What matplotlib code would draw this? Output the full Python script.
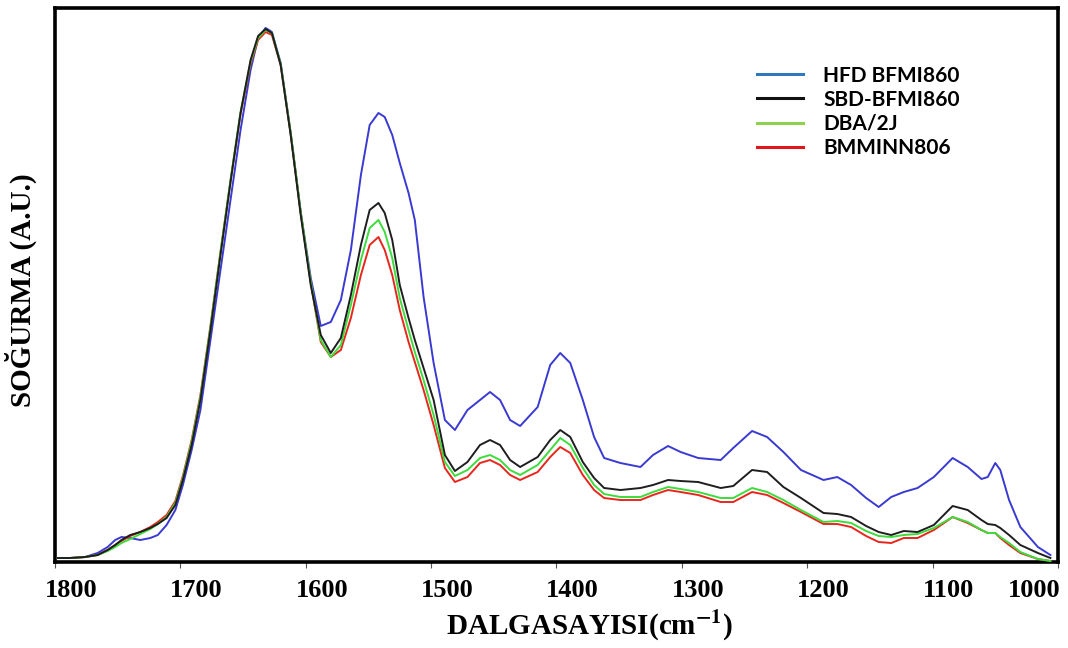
import matplotlib

matplotlib.use("Agg")

import matplotlib.pyplot as plt
import matplotlib.transforms as mtransforms
from matplotlib.lines import Line2D


# wavenumber grid (cm-1) shared by all spectra
wavenumber = [
    1798, 1788, 1776, 1766, 1758, 1752, 1747, 1740, 1732, 1724,
    1718, 1711, 1704, 1698, 1691, 1684, 1676, 1668, 1660, 1652,
    1644, 1638, 1632, 1627, 1620, 1612, 1604, 1596, 1588, 1580,
    1572, 1564, 1556, 1549, 1542, 1537, 1531, 1525, 1518, 1513,
    1506, 1498, 1489, 1481, 1471, 1461, 1453, 1445, 1437, 1429,
    1415, 1405, 1397, 1389, 1379, 1370, 1362, 1349, 1333, 1323,
    1311, 1301, 1287, 1269, 1259, 1244, 1232, 1219, 1205, 1187,
    1176, 1165, 1153, 1143, 1133, 1123, 1112, 1099, 1084, 1072,
    1061, 1056, 1050, 1046, 1039, 1030, 1016, 1006,
]

hfd_bfmi860 = [
    0.008, 0.008, 0.010, 0.018, 0.030, 0.044, 0.050, 0.048, 0.044, 0.048,
    0.054, 0.074, 0.104, 0.154, 0.224, 0.304, 0.444, 0.584, 0.724, 0.864,
    0.984, 1.048, 1.068, 1.060, 0.998, 0.858, 0.700, 0.568, 0.472, 0.480,
    0.524, 0.624, 0.774, 0.874, 0.898, 0.890, 0.854, 0.798, 0.738, 0.684,
    0.530, 0.398, 0.284, 0.264, 0.304, 0.324, 0.340, 0.324, 0.284, 0.272,
    0.310, 0.394, 0.418, 0.398, 0.324, 0.250, 0.208, 0.198, 0.190, 0.214,
    0.232, 0.220, 0.208, 0.204, 0.228, 0.262, 0.250, 0.220, 0.184, 0.164,
    0.170, 0.154, 0.128, 0.110, 0.130, 0.140, 0.148, 0.170, 0.208, 0.190,
    0.166, 0.170, 0.198, 0.184, 0.124, 0.070, 0.030, 0.014,
]

sbd_bfmi860 = [
    0.008, 0.008, 0.010, 0.014, 0.024, 0.034, 0.044, 0.054, 0.060, 0.068,
    0.076, 0.088, 0.114, 0.164, 0.234, 0.324, 0.464, 0.614, 0.760, 0.898,
    1.004, 1.052, 1.066, 1.058, 0.994, 0.854, 0.694, 0.554, 0.454, 0.418,
    0.448, 0.534, 0.634, 0.704, 0.718, 0.698, 0.644, 0.554, 0.488, 0.444,
    0.388, 0.324, 0.214, 0.182, 0.200, 0.234, 0.244, 0.234, 0.204, 0.190,
    0.210, 0.244, 0.264, 0.250, 0.200, 0.168, 0.148, 0.144, 0.148, 0.154,
    0.164, 0.162, 0.160, 0.148, 0.152, 0.184, 0.180, 0.150, 0.128, 0.098,
    0.096, 0.090, 0.072, 0.060, 0.054, 0.062, 0.060, 0.074, 0.112, 0.104,
    0.084, 0.076, 0.074, 0.068, 0.054, 0.034, 0.018, 0.008,
]

dba_2j = [
    0.008, 0.008, 0.010, 0.014, 0.022, 0.030, 0.038, 0.046, 0.056, 0.066,
    0.076, 0.090, 0.118, 0.168, 0.240, 0.330, 0.470, 0.620, 0.764, 0.900,
    1.000, 1.048, 1.064, 1.058, 0.996, 0.858, 0.700, 0.560, 0.444, 0.410,
    0.434, 0.514, 0.604, 0.668, 0.684, 0.660, 0.608, 0.528, 0.464, 0.420,
    0.364, 0.294, 0.200, 0.172, 0.184, 0.208, 0.214, 0.204, 0.184, 0.174,
    0.194, 0.224, 0.248, 0.234, 0.188, 0.154, 0.136, 0.130, 0.130, 0.140,
    0.150, 0.146, 0.140, 0.128, 0.128, 0.148, 0.140, 0.124, 0.104, 0.080,
    0.082, 0.078, 0.062, 0.052, 0.050, 0.054, 0.056, 0.068, 0.090, 0.080,
    0.064, 0.058, 0.058, 0.050, 0.038, 0.020, 0.006, 0.002,
]

bmminn806 = [
    0.008, 0.008, 0.010, 0.014, 0.024, 0.034, 0.042, 0.052, 0.060, 0.070,
    0.080, 0.094, 0.122, 0.172, 0.244, 0.334, 0.472, 0.620, 0.762, 0.896,
    0.996, 1.044, 1.060, 1.054, 0.994, 0.856, 0.698, 0.558, 0.440, 0.410,
    0.424, 0.488, 0.574, 0.634, 0.650, 0.624, 0.574, 0.504, 0.440, 0.400,
    0.344, 0.274, 0.188, 0.160, 0.170, 0.198, 0.204, 0.194, 0.174, 0.164,
    0.180, 0.210, 0.230, 0.218, 0.174, 0.144, 0.128, 0.124, 0.124, 0.134,
    0.144, 0.140, 0.134, 0.120, 0.120, 0.140, 0.134, 0.118, 0.100, 0.076,
    0.076, 0.070, 0.052, 0.040, 0.038, 0.048, 0.048, 0.064, 0.090, 0.078,
    0.064, 0.058, 0.058, 0.048, 0.034, 0.018, 0.006, 0.002,
]

series_names = ["HFD BFMI860", "SBD-BFMI860", "DBA/2J", "BMMINN806"]
tick_values = [1800, 1700, 1600, 1500, 1400, 1300, 1200, 1100, 1000]

line_colors = ["#3a3ad2", "#1e1e1e", "#3ddc3d", "#e8261e"]
legend_colors = ["#2f78bd", "#111111", "#8fd14f", "#e0161b"]

plt.rcParams.update({"font.family": "Liberation Serif", "mathtext.fontset": "stix"})

fig = plt.figure(figsize=(10.68, 6.48), dpi=100)
ax = fig.add_axes([0.0515, 0.1327, 0.9391, 0.855])

# blue first so the others sit on top at the amide I maximum
ax.plot(wavenumber, hfd_bfmi860, color=line_colors[0], lw=1.4, zorder=2)
ax.plot(wavenumber, bmminn806, color=line_colors[3], lw=1.4, zorder=3)
ax.plot(wavenumber, dba_2j, color=line_colors[2], lw=1.4, zorder=4)
ax.plot(wavenumber, sbd_bfmi860, color=line_colors[1], lw=1.4, zorder=5)

ax.set_xlim(1800, 1000)
ax.set_ylim(0, 1.108)
ax.set_yticks([])

for side in ax.spines.values():
    side.set_linewidth(2.6)
    side.set_color("black")

ax.set_xticks(tick_values)
ax.set_xticklabels([str(v) for v in tick_values], fontsize=19, fontweight="bold")
ax.tick_params(axis="x", direction="out", length=4, width=0.8, color="#555555", pad=8)

# labels sit a little right of their ticks; the last one is pulled back inside
for lab in ax.get_xticklabels():
    dx = -24 if lab.get_text() == "1000" else 16
    lab.set_transform(lab.get_transform() + mtransforms.ScaledTranslation(dx / 100, 0, fig.dpi_scale_trans))

ax.set_xlabel("DALGASAYISI(cm$^{\\mathbf{-1}}$)", fontsize=21, fontweight="bold")
ax.xaxis.set_label_coords(0.533, -0.085)
ax.set_ylabel("SOĞURMA (A.U.)", fontsize=21, fontweight="bold")
ax.yaxis.set_label_coords(-0.018, 0.49)

handles = [Line2D([], [], color=c, lw=2.2) for c in legend_colors]
leg = ax.legend(
    handles, series_names,
    loc="upper left", bbox_to_anchor=(0.681, 0.93),
    frameon=False, handlelength=2.2, handletextpad=1.0, labelspacing=0.2,
    prop={"family": "Lato", "weight": "bold", "size": 15},
)

fig.savefig("out.png", dpi=100)
